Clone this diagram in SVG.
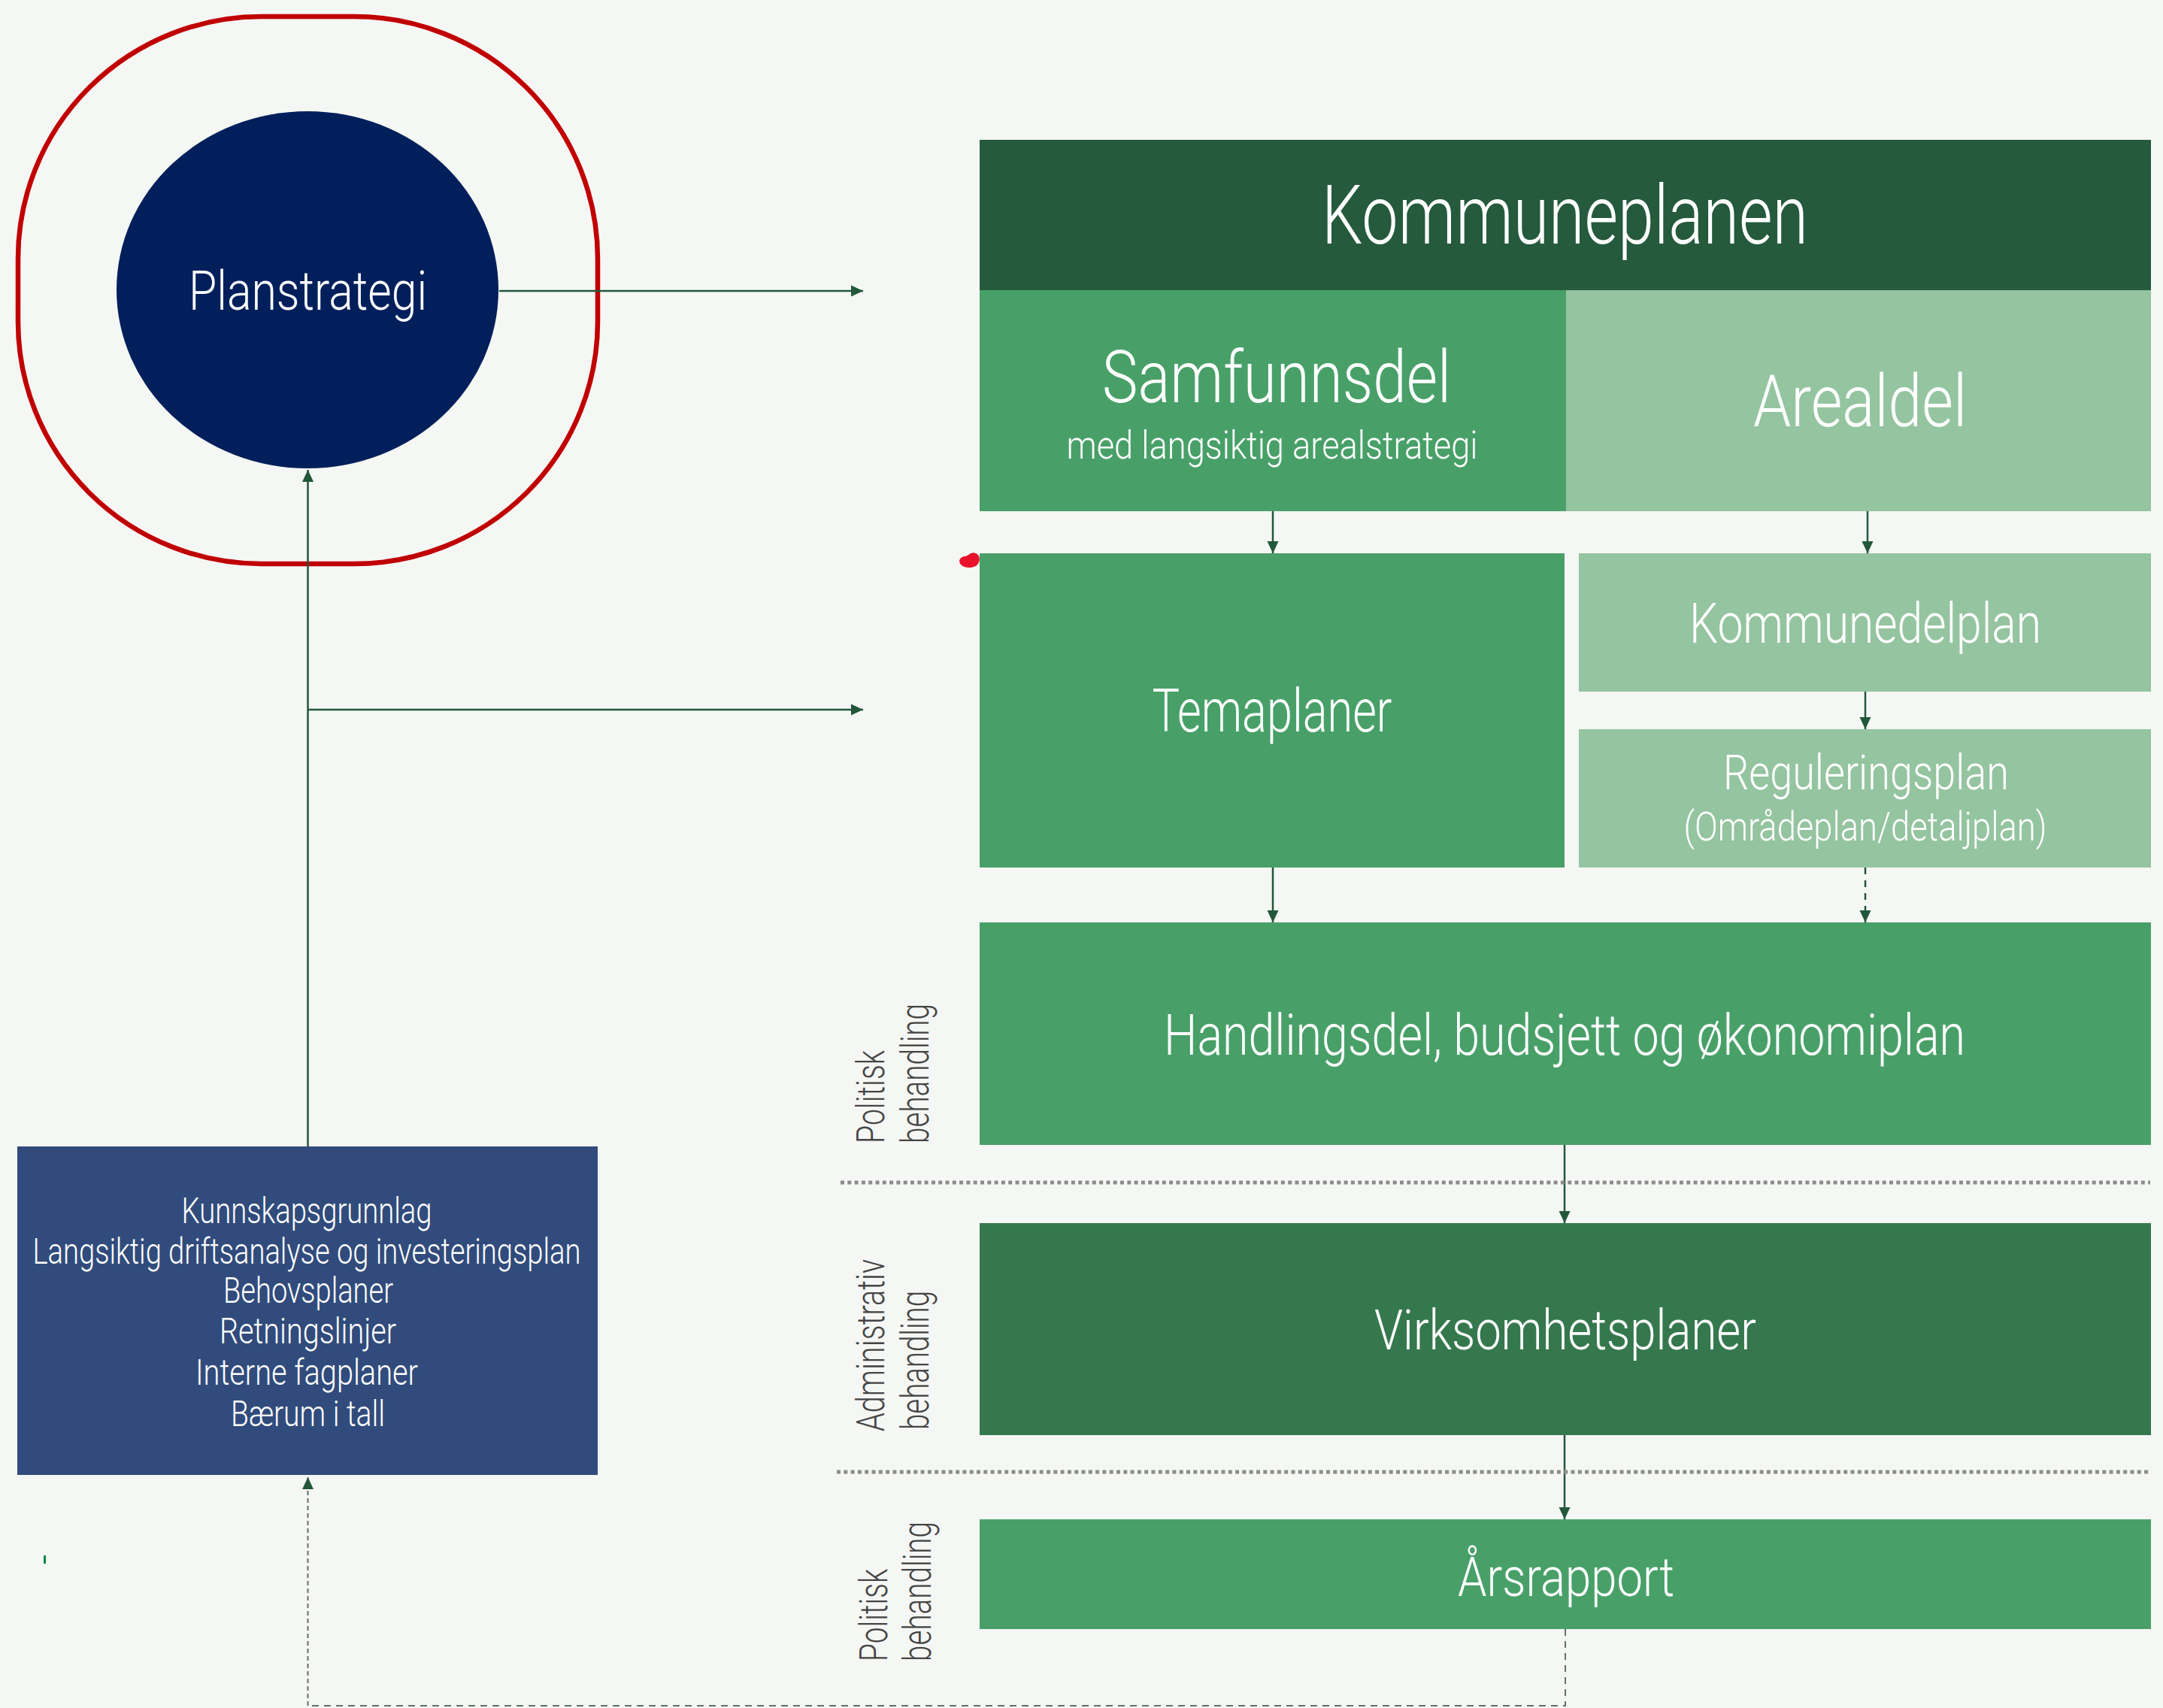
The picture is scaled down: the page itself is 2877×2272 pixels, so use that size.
<svg xmlns="http://www.w3.org/2000/svg" width="2877" height="2272" viewBox="0 0 2877 2272">
<defs>
<style>
.t{font-family:Roboto,"Liberation Sans",sans-serif;font-weight:300;fill:#ffffff;text-anchor:middle}
.s{font-family:Roboto,"Liberation Sans",sans-serif;font-weight:300;fill:#454545}
.c{fill:none;stroke:#22573a;stroke-width:2.5}
.d{fill:none;stroke:#5d7466;stroke-width:2}
.dot{fill:none;stroke:#8c8c8c;stroke-width:5;stroke-dasharray:5 4.3}
</style>
<marker id="ah" viewBox="0 0 16 16" refX="16" refY="8" markerWidth="16" markerHeight="16" markerUnits="userSpaceOnUse" orient="auto">
<path d="M0,0.5 L16,8 L0,15.5 z" fill="#22573a"/>
</marker>
</defs>
<rect width="2877" height="2272" fill="#f5f7f4"/>

<g id="ring">
<rect x="24" y="22" width="771" height="728" rx="324" ry="322" fill="none" stroke="#c00000" stroke-width="6.5"/>
</g>

<g id="connectors">
<line class="c" x1="664" y1="387" x2="1148" y2="387" marker-end="url(#ah)"/>
<line class="c" x1="409.5" y1="1525" x2="409.5" y2="625" marker-end="url(#ah)"/>
<line class="c" x1="409.5" y1="944" x2="1148" y2="944" marker-end="url(#ah)"/>
<line class="c" x1="1693" y1="680" x2="1693" y2="736" marker-end="url(#ah)"/>
<line class="c" x1="2484" y1="680" x2="2484" y2="736" marker-end="url(#ah)"/>
<line class="c" x1="2481" y1="920" x2="2481" y2="970" marker-end="url(#ah)"/>
<line class="c" x1="1693" y1="1154" x2="1693" y2="1227" marker-end="url(#ah)"/>
<line class="c" x1="2481" y1="1154" x2="2481" y2="1227" stroke-dasharray="9 8" marker-end="url(#ah)"/>
<line class="c" x1="2081" y1="1523" x2="2081" y2="1627" marker-end="url(#ah)"/>
<line class="c" x1="2081" y1="1909" x2="2081" y2="2021" marker-end="url(#ah)"/>
<polyline class="d" points="2082,2167 2082,2269 409.5,2269" stroke-dasharray="9 7"/>
<line class="d" x1="409.5" y1="2269" x2="409.5" y2="1965" stroke-dasharray="6 4" marker-end="url(#ah)"/>
</g>

<g id="separators">
<line class="dot" x1="1118" y1="1573" x2="2860" y2="1573"/>
<line class="dot" x1="1113" y1="1958" x2="2860" y2="1958"/>
</g>

<g id="planstrategi">
<ellipse cx="409" cy="385.5" rx="254" ry="237.5" fill="#011f5b"/>
<text class="t" x="409.5" y="412" font-size="73" textLength="317" lengthAdjust="spacingAndGlyphs">Planstrategi</text>
</g>

<g id="kunnskap">
<rect x="23" y="1525" width="772" height="437" fill="#314c7c"/>
<text class="t" x="408" y="1626.5" font-size="48" textLength="333" lengthAdjust="spacingAndGlyphs">Kunnskapsgrunnlag</text>
<text class="t" x="408" y="1680.5" font-size="48" textLength="729" lengthAdjust="spacingAndGlyphs">Langsiktig driftsanalyse og investeringsplan</text>
<text class="t" x="410" y="1732.5" font-size="48" textLength="226" lengthAdjust="spacingAndGlyphs">Behovsplaner</text>
<text class="t" x="409.5" y="1787" font-size="48" textLength="235" lengthAdjust="spacingAndGlyphs">Retningslinjer</text>
<text class="t" x="408" y="1841.6" font-size="48" textLength="296" lengthAdjust="spacingAndGlyphs">Interne fagplaner</text>
<text class="t" x="409.5" y="1897" font-size="48" textLength="205" lengthAdjust="spacingAndGlyphs">Bærum i tall</text>
</g>

<g id="kommuneplanen">
<rect x="1303" y="186" width="1558" height="200" fill="#255a3c"/>
<text class="t" x="2081.5" y="324" font-size="109" textLength="647" lengthAdjust="spacingAndGlyphs">Kommuneplanen</text>
</g>

<g id="samfunnsdel">
<rect x="1303" y="386" width="780" height="294" fill="#48a068"/>
<text class="t" x="1698" y="535" font-size="97" textLength="464" lengthAdjust="spacingAndGlyphs">Samfunnsdel</text>
<text class="t" x="1692" y="610" font-size="52" textLength="547" lengthAdjust="spacingAndGlyphs">med langsiktig arealstrategi</text>
</g>

<g id="arealdel">
<rect x="2083" y="386" width="778" height="294" fill="#94c4a0"/>
<text class="t" x="2474" y="567" font-size="97" textLength="284" lengthAdjust="spacingAndGlyphs">Arealdel</text>
</g>

<g id="temaplaner">
<rect x="1303" y="736" width="778" height="418" fill="#48a068"/>
<text class="t" x="1692" y="973" font-size="79" textLength="319" lengthAdjust="spacingAndGlyphs">Temaplaner</text>
</g>

<g id="kommunedelplan">
<rect x="2100" y="736" width="761" height="184" fill="#94c4a0"/>
<text class="t" x="2481" y="855" font-size="75" textLength="468" lengthAdjust="spacingAndGlyphs">Kommunedelplan</text>
</g>

<g id="reguleringsplan">
<rect x="2100" y="970" width="761" height="184" fill="#94c4a0"/>
<text class="t" x="2482" y="1050" font-size="65" textLength="380" lengthAdjust="spacingAndGlyphs">Reguleringsplan</text>
<text class="t" x="2481" y="1118" font-size="54" textLength="483" lengthAdjust="spacingAndGlyphs">(Områdeplan/detaljplan)</text>
</g>

<g id="handlingsdel">
<rect x="1303" y="1227" width="1558" height="296" fill="#48a068"/>
<text class="t" x="2081" y="1403" font-size="76" textLength="1066" lengthAdjust="spacingAndGlyphs">Handlingsdel, budsjett og økonomiplan</text>
</g>

<g id="virksomhetsplaner">
<rect x="1303" y="1627" width="1558" height="282" fill="#35784e"/>
<text class="t" x="2082" y="1795" font-size="75" textLength="508" lengthAdjust="spacingAndGlyphs">Virksomhetsplaner</text>
</g>

<g id="arsrapport">
<rect x="1303" y="2021" width="1558" height="146" fill="#48a068"/>
<text class="t" x="2083" y="2123" font-size="73" textLength="288" lengthAdjust="spacingAndGlyphs">Årsrapport</text>
</g>

<g id="labels">
<text class="s" transform="translate(1176,1521) rotate(-90)" font-size="51" textLength="124" lengthAdjust="spacingAndGlyphs">Politisk</text>
<text class="s" transform="translate(1235,1521) rotate(-90)" font-size="51" textLength="186" lengthAdjust="spacingAndGlyphs">behandling</text>
<text class="s" transform="translate(1176,1904) rotate(-90)" font-size="51" textLength="229" lengthAdjust="spacingAndGlyphs">Administrativ</text>
<text class="s" transform="translate(1235,1902) rotate(-90)" font-size="51" textLength="185" lengthAdjust="spacingAndGlyphs">behandling</text>
<text class="s" transform="translate(1180,2210) rotate(-90)" font-size="51" textLength="123" lengthAdjust="spacingAndGlyphs">Politisk</text>
<text class="s" transform="translate(1238,2210) rotate(-90)" font-size="51" textLength="186" lengthAdjust="spacingAndGlyphs">behandling</text>
</g>

<g id="marks">
<path d="M1283,740 C1290,739 1291,733 1298,736 C1305,739 1304,749 1298,753 C1292,756 1282,756 1278,751 C1274,746 1277,741 1283,740 z" fill="#e8132b"/>
<rect x="58" y="2069" width="3" height="11" fill="#008a3a"/>
</g>
</svg>
